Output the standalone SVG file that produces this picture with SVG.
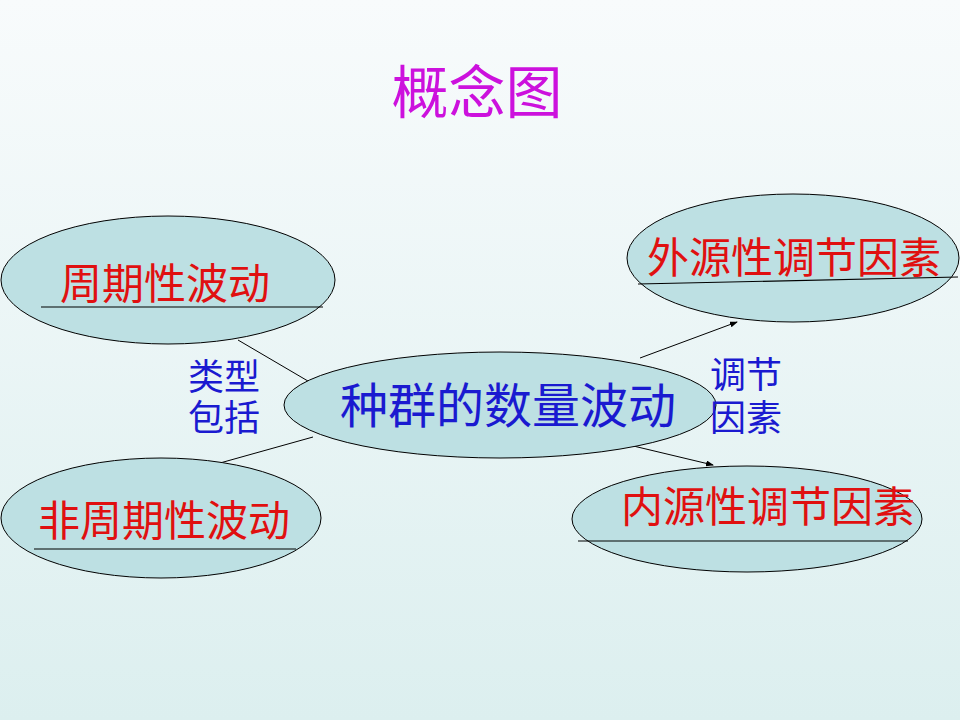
<svg xmlns="http://www.w3.org/2000/svg" width="960" height="720" viewBox="0 0 960 720">
<defs>
<linearGradient id="bg" x1="0" y1="0" x2="0" y2="1">
<stop offset="0" stop-color="#f8fbfc"/>
<stop offset="1" stop-color="#dcefef"/>
</linearGradient>
<marker id="ah" markerWidth="8" markerHeight="6" refX="7" refY="3" orient="auto" markerUnits="userSpaceOnUse">
<path d="M0,0 L8,3 L0,6 Z" fill="#000"/>
</marker>
<style>
.el{fill:#bde0e3;stroke:#000;stroke-width:1}
.ul{stroke:#000;stroke-width:1.2;fill:none}
.red{fill:#e01010;font-family:"Liberation Serif","Noto Sans CJK SC",serif;font-size:42px}
.blue{fill:#1a1ad0;font-family:"Liberation Serif","Noto Sans CJK SC",serif}
.cn{stroke:#000;stroke-width:1;fill:none}
</style>
</defs>
<rect width="960" height="720" fill="url(#bg)"/>
<text x="477" y="113" text-anchor="middle" font-family="'Liberation Serif','Noto Sans CJK SC',serif" font-size="57" fill="#cc11dd">概念图</text>
<g id="connectors">
<line class="cn" x1="238" y1="340" x2="313" y2="384"/>
<line class="cn" x1="220" y1="463" x2="313" y2="437"/>
<line class="cn" x1="640" y1="358" x2="737" y2="322" marker-end="url(#ah)"/>
<line class="cn" x1="625" y1="444" x2="713" y2="465" marker-end="url(#ah)"/>
</g>
<g id="n-periodic">
<ellipse class="el" cx="168" cy="280" rx="167" ry="64"/>
<line class="ul" x1="41" y1="307" x2="323" y2="307"/>
<text class="red" x="165" y="299" text-anchor="middle">周期性波动</text>
</g>
<g id="n-external">
<ellipse class="el" cx="793" cy="258" rx="166" ry="64"/>
<line class="ul" x1="638" y1="284" x2="958" y2="277"/>
<text class="red" x="794" y="273" text-anchor="middle">外源性调节因素</text>
</g>
<g id="n-center">
<ellipse class="el" cx="500" cy="405" rx="216" ry="53"/>
<text class="blue" x="508" y="423" text-anchor="middle" font-size="48">种群的数量波动</text>
</g>
<g id="n-nonperiodic">
<ellipse class="el" cx="161" cy="518" rx="160" ry="60"/>
<line class="ul" x1="34" y1="549" x2="296" y2="549"/>
<text class="red" x="164" y="536" text-anchor="middle">非周期性波动</text>
</g>
<g id="n-internal">
<ellipse class="el" cx="747" cy="519" rx="175" ry="53"/>
<line class="ul" x1="578" y1="541" x2="908" y2="541"/>
<text class="red" x="768" y="522" text-anchor="middle">内源性调节因素</text>
</g>
<g id="l-types">
<text class="blue" x="224" y="390" text-anchor="middle" font-size="36">类型</text>
<text class="blue" x="224" y="431" text-anchor="middle" font-size="36">包括</text>
</g>
<g id="l-factors">
<text class="blue" x="746" y="388" text-anchor="middle" font-size="36">调节</text>
<text class="blue" x="746" y="431" text-anchor="middle" font-size="36">因素</text>
</g>
</svg>
